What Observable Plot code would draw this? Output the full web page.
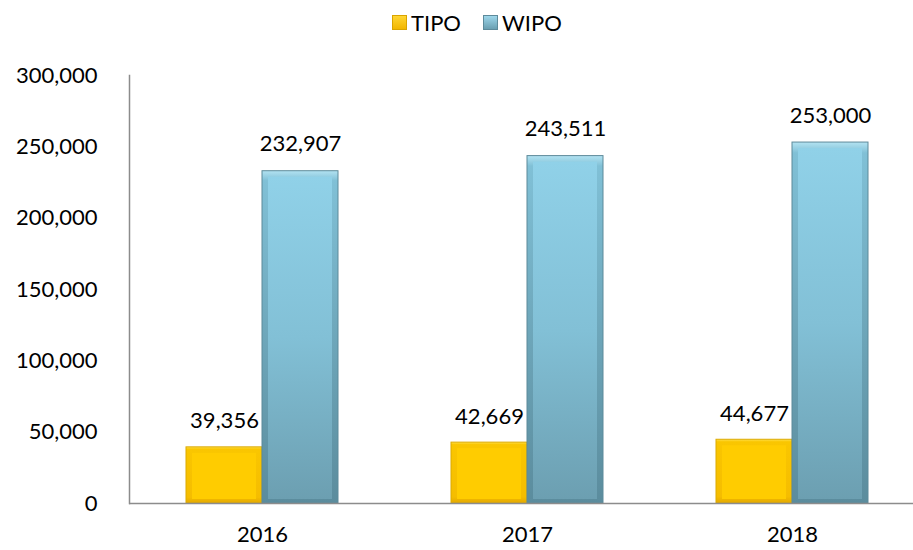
<!DOCTYPE html>
<html><head><meta charset="utf-8">
<script src="https://cdn.jsdelivr.net/npm/d3@7"></script>
<script src="https://cdn.jsdelivr.net/npm/@observablehq/plot@0.6"></script>
<style>
body{margin:0;background:#fff;font-family:Lato,"Open Sans",sans-serif;}
#legend{height:40px;position:relative;font-size:22px;color:#000;}
.item{position:absolute;top:9px;display:flex;align-items:center;}
.sw{width:15px;height:15px;margin-right:4px;box-sizing:border-box;}
</style></head><body>
<div id="legend"></div>
<div id="chart"></div>
<script>
const years = ["2016", "2017", "2018"];
const seriesNames = ["TIPO", "WIPO"];
const tipo = [39356, 42669, 44677];
const wipo = [232907, 243511, 253000];
const yTicks = [0, 50000, 100000, 150000, 200000, 250000, 300000];

const rows = [];
years.forEach((yr, i) => {
  rows.push({year: yr, series: "TIPO", value: tipo[i]});
  rows.push({year: yr, series: "WIPO", value: wipo[i]});
});
const T = rows.filter(d => d.series === "TIPO");
const W = rows.filter(d => d.series === "WIPO");
const fmt = d3.format(",");

const half = 76;
const plot = Plot.plot({
  width: 913,
  height: 510,
  marginLeft: 129,
  marginRight: 0,
  marginTop: 35,
  marginBottom: 47,
  style: {fontFamily: "Lato, 'Open Sans', sans-serif", fontSize: "22px", color: "#000", background: "#fff"},
  x: {domain: years, range: [129.5, 924.5], paddingInner: 0.4264, paddingOuter: 0.2132, label: null},
  y: {domain: [0, 300000], label: null},
  marks: [
    Plot.axisY({ticks: yTicks, tickSize: 0, tickPadding: 32, tickFormat: fmt, fontSize: 22, label: null}),
    Plot.axisX({tickSize: 0, tickPadding: 23, fontSize: 22, label: null}),
    // TIPO bars: edge then face
    Plot.barY(T, {x: "year", y: "value", insetRight: half, fill: "url(#tipoEdge)", stroke: "#dcaa00", strokeWidth: 1}),
    Plot.barY(T, {x: "year", y: "value", insetRight: half + 6, insetLeft: 6, insetTop: 6, insetBottom: 4, fill: "#ffcc00"}),
    // WIPO bars
    Plot.barY(W, {x: "year", y: "value", insetLeft: half, fill: "url(#wipoEdge)", stroke: "#5d8a9a", strokeWidth: 1}),
    Plot.barY(W, {x: "year", y: "value", insetLeft: half + 6, insetRight: 6, insetTop: 6, insetBottom: 4, fill: "url(#wipoFace)"}),
    Plot.ruleY([0], {stroke: "#8c8c8c", strokeWidth: 1.5}),
    Plot.frame({anchor: "left", stroke: "#8c8c8c", strokeWidth: 1.5}),
    Plot.text(T, {x: "year", y: "value", text: d => fmt(d.value), dx: -half / 2, dy: -26, fontSize: 22, fill: "#000"}),
    Plot.text(W, {x: "year", y: "value", text: d => fmt(d.value), dx: half / 2, dy: -27, fontSize: 22, fill: "#000"})
  ]
});

const svg = d3.select(plot);
const defs = svg.insert("defs", ":first-child");
function grad(id, stops) {
  const g = defs.append("linearGradient").attr("id", id).attr("x1", 0).attr("y1", 0).attr("x2", 0).attr("y2", 1);
  stops.forEach(([o, c]) => g.append("stop").attr("offset", o).attr("stop-color", c));
}
grad("tipoEdge", [[0, "#ffe04a"], [0.04, "#fac600"], [0.9, "#f5bd00"], [1, "#e3a800"]]);
grad("wipoEdge", [[0, "#b3e3f2"], [0.03, "#80c0d6"], [1, "#5b8c9d"]]);
grad("wipoFace", [[0, "#90d1e8"], [0.5, "#82c0d6"], [1, "#6c9fb1"]]);

document.getElementById("chart").appendChild(plot);

// legend
const lg = d3.select("#legend");
const items = [
  {name: seriesNames[0], left: 392, bg: "linear-gradient(#ffd633,#f2b600)", border: "#d9a400"},
  {name: seriesNames[1], left: 483, bg: "linear-gradient(#9dd6ea,#6a9fb1)", border: "#5d8a9a"}
];
items.forEach(it => {
  const d = lg.append("div").attr("class", "item").style("left", it.left + "px");
  d.append("div").attr("class", "sw").style("background", it.bg).style("border", "1px solid " + it.border);
  d.append("span").text(it.name);
});
</script>
</body></html>
